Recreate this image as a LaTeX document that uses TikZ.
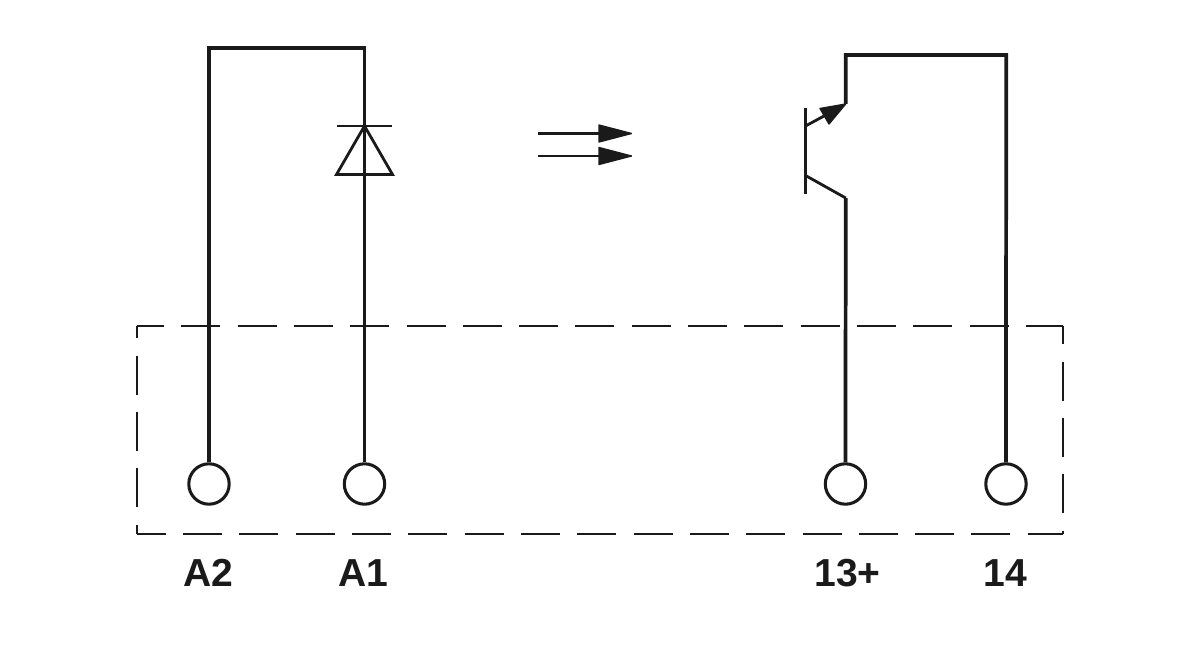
\documentclass[tikz,border=0pt]{standalone}
\usepackage{fontspec}
\setmainfont{Liberation Sans}
\definecolor{ink}{HTML}{1A1A1A}
\tikzset{
  wire/.style={draw=ink,line width=2.8pt,line join=miter},
  thin wire/.style={draw=ink,line width=2.1pt,line join=miter},
  terminal/.style={circle,draw=ink,line width=2.3pt,fill=white,minimum size=30.3pt,inner sep=0pt},
  lab/.style={font=\bfseries\fontsize{29.3}{32}\selectfont,text=ink,inner sep=0pt,anchor=base},
  solid head/.style={fill=ink,draw=ink,line width=1pt,line join=round},
  frame/.style={draw=ink,line width=1.8pt}
}
\begin{document}
\begin{tikzpicture}[x=0.75pt,y=-0.75pt]
\useasboundingbox (0,0) rectangle (1200,656);
% frame
\coordinate (fa) at (137,326); \coordinate (fb) at (1063,326);
\coordinate (fc) at (1063,534); \coordinate (fd) at (137,534);
\draw[frame,dash pattern=on 29.25pt off 12.98pt,dash phase=9pt] (fa) -- (fb);
\draw[frame,dash pattern=on 29.25pt off 12.98pt,dash phase=7.6pt] (fd) -- (fc);
\draw[frame,dash pattern=on 29.25pt off 12.98pt,dash phase=20pt] (fa) -- (fd);
\draw[frame,dash pattern=on 29.25pt off 12.98pt,dash phase=15.5pt] (fb) -- (fc);
% terminals
\node[terminal] (A2) at (209,484) {};
\node[terminal] (A1) at (364.5,484) {};
\node[terminal] (T13) at (845.5,484) {};
\node[terminal] (T14) at (1006,484) {};
% left loop
\coordinate (tl) at (209,48); \coordinate (tr) at (364.5,48);
\draw[wire] (A2) -- (tl) -- (tr) -- (A1);
% diode
\coordinate (dk) at (364.5,126); \coordinate (dl) at (337,126); \coordinate (dr) at (392,126);
\coordinate (tL) at (336.5,174.5); \coordinate (tR) at (392.5,174.5);
\draw[thin wire] (dl) -- (dr);
\draw[thin wire] (dk) -- (tR) -- (tL) -- cycle;
% light arrows
\coordinate (a1s) at (538,133.5); \coordinate (a1b) at (600,133.5); \coordinate (a1e) at (631.5,133.5);
\coordinate (a2s) at (538,156); \coordinate (a2b) at (600,156); \coordinate (a2e) at (631.5,156);
\draw[thin wire] (a1s) -- (a1b);
\draw[thin wire] (a2s) -- (a2b);
\path[solid head] (599,125) -- (a1e) -- (599,142) -- cycle;
\path[solid head] (599,147.5) -- (a2e) -- (599,164.5) -- cycle;
% transistor
\coordinate (bt) at (805.5,108); \coordinate (bb) at (805.5,194);
\coordinate (em) at (805.5,126); \coordinate (ee) at (845.7,104);
\coordinate (co) at (805.5,175.5); \coordinate (cc) at (845.7,198);
\coordinate (rt) at (845.7,55); \coordinate (rr) at (1006.2,55);
\draw[thin wire] (bt) -- (bb);
\draw[thin wire] (em) -- (824,116);
\path[solid head] (ee) -- (820,108.5) -- (829,124) -- cycle;
\draw[thin wire] (co) -- (cc);
\draw[wire] (T13) -- (cc);
\draw[wire] (ee) -- (rt) -- (rr) -- (T14);
% labels
\node[lab] (lA2) at (208.5,586) {A2};
\node[lab] (lA1) at (363,586) {A1};
\node[lab] (l13) at (847.5,586) {13+};
\node[lab] (l14) at (1005,586) {14};
\end{tikzpicture}
\end{document}
